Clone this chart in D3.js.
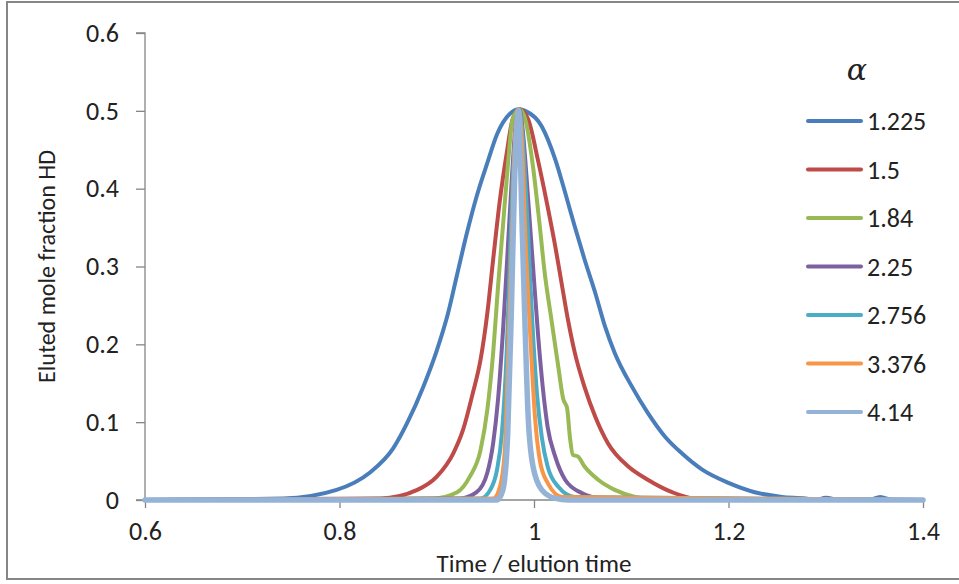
<!DOCTYPE html>
<html>
<head>
<meta charset="utf-8">
<style>
  body { margin: 0; background: #fff; }
  svg text { font-family: Carlito, Calibri, "Liberation Sans", sans-serif; fill: #222; }
</style>
</head>
<body>
<script src="https://d3js.org/d3.v7.min.js"></script>
<script>

// series names (alpha values) and colours
var alphas = ["1.225", "1.5", "1.84", "2.25", "2.756", "3.376", "4.14"];
var colors = ["#4A7EBB", "#BE4B48", "#98B954", "#7D60A0", "#4BACC6", "#F79646", "#95B3D7"];

// [time / elution time, eluted mole fraction]
var s1225 = [[0.6,0],[0.742,0.002],[0.797,0.013],[0.831,0.035],[0.855,0.066],[0.870,0.100],[0.886,0.145],
  [0.900,0.192],[0.911,0.237],[0.921,0.290],[0.931,0.343],[0.941,0.390],[0.952,0.433],[0.962,0.470],
  [0.975,0.496],[0.985,0.502],[0.991,0.500],[1.008,0.480],[1.022,0.437],[1.032,0.395],[1.042,0.351],
  [1.052,0.309],[1.063,0.266],[1.073,0.223],[1.083,0.189],[1.101,0.145],[1.117,0.112],[1.135,0.081],
  [1.152,0.060],[1.173,0.039],[1.200,0.022],[1.227,0.010],[1.255,0.004],[1.279,0.002],[1.290,0],
  [1.300,0.003],[1.315,0],[1.345,0],[1.356,0.004],[1.368,0],[1.4,0]];
var s15 = [[0.6,0],[0.842,0.002],[0.880,0.013],[0.900,0.030],[0.917,0.060],[0.927,0.090],[0.937,0.137],
  [0.945,0.180],[0.952,0.240],[0.958,0.309],[0.965,0.386],[0.972,0.446],[0.978,0.489],[0.985,0.502],
  [0.994,0.489],[1.004,0.437],[1.014,0.377],[1.022,0.325],[1.029,0.274],[1.035,0.231],[1.042,0.189],
  [1.052,0.145],[1.063,0.107],[1.076,0.073],[1.097,0.043],[1.117,0.026],[1.142,0.010],[1.166,0.002],[1.4,0]];
var s184 = [[0.6,0],[0.896,0.002],[0.921,0.010],[0.934,0.030],[0.945,0.064],[0.952,0.116],[0.958,0.189],
  [0.963,0.274],[0.968,0.351],[0.973,0.428],[0.978,0.489],[0.985,0.502],[0.991,0.489],[0.999,0.428],
  [1.006,0.351],[1.011,0.292],[1.018,0.231],[1.025,0.171],[1.030,0.130],[1.034,0.118],[1.037,0.080],
  [1.040,0.058],[1.045,0.056],[1.052,0.043],[1.066,0.026],[1.083,0.013],[1.104,0.004],[1.124,0.001],[1.4,0]];
var s225 = [[0.6,0],[0.924,0.002],[0.941,0.010],[0.952,0.035],[0.958,0.073],[0.963,0.129],[0.968,0.215],
  [0.973,0.322],[0.977,0.408],[0.981,0.480],[0.985,0.502],[0.988,0.480],[0.994,0.386],[0.999,0.300],
  [1.004,0.215],[1.009,0.145],[1.014,0.094],[1.022,0.055],[1.032,0.026],[1.049,0.009],[1.070,0.002],[1.4,0]];
var s2756 = [[0.6,0],[0.945,0.002],[0.955,0.013],[0.962,0.039],[0.967,0.086],[0.972,0.193],[0.975,0.300],
  [0.978,0.408],[0.982,0.480],[0.985,0.502],[0.988,0.472],[0.993,0.364],[0.998,0.235],[1.003,0.137],
  [1.008,0.081],[1.014,0.043],[1.025,0.017],[1.042,0.004],[1.4,0]];
var s3376 = [[0.6,0],[0.958,0.002],[0.965,0.017],[0.970,0.064],[0.973,0.171],[0.977,0.322],[0.980,0.450],
  [0.984,0.502],[0.988,0.450],[0.991,0.343],[0.996,0.215],[1.001,0.107],[1.006,0.051],[1.014,0.022],
  [1.029,0.004],[1.4,0]];
var s414 = [[0.6,0],[0.962,0],[0.968,0.013],[0.973,0.086],[0.977,0.257],[0.980,0.408],[0.984,0.500],
  [0.988,0.343],[0.991,0.215],[0.994,0.107],[0.999,0.043],[1.008,0.013],[1.022,0.002],[1.035,0],[1.4,0]];

var series = [s1225, s15, s184, s225, s2756, s3376, s414];
var widths = [4, 4, 4, 4, 4, 4, 5.5];

var xTicks = [0.6, 0.8, 1, 1.2, 1.4];
var yTicks = [0, 0.1, 0.2, 0.3, 0.4, 0.5, 0.6];

var W = 959, H = 584;
var pLeft = 145, pRight = 923, pTop = 33, pBottom = 500;
var fontStack = "Carlito, Calibri, 'Liberation Sans', sans-serif";

var svg = d3.select("body").append("svg")
    .attr("width", W)
    .attr("height", H);

// outer frame
svg.append("rect")
    .attr("x", 7).attr("y", 2)
    .attr("width", W + 10).attr("height", 577)
    .attr("fill", "#fff")
    .attr("stroke", "#868686")
    .attr("stroke-width", 2);

var x = d3.scaleLinear().domain([0.6, 1.4]).range([pLeft, pRight]);
var y = d3.scaleLinear().domain([0, 0.6]).range([pBottom, pTop]);

var fmt = d => d === 0 ? "0" : String(+d.toFixed(1));

// y axis
var ya = svg.append("g")
    .attr("transform", "translate(" + pLeft + ",0)")
    .call(d3.axisLeft(y).tickValues(yTicks).tickSize(9).tickFormat(fmt));
ya.select(".domain").attr("stroke", "#868686").attr("stroke-width", 1.3)
    .attr("d", "M-9," + pTop + "H0V" + pBottom + "H-9");
ya.selectAll(".tick line").attr("stroke", "#868686").attr("stroke-width", 1.3);
ya.selectAll(".tick text").attr("x", -26).attr("font-size", 26).attr("fill", "#222")
    .attr("font-family", fontStack);

// x axis
var xa = svg.append("g")
    .attr("transform", "translate(0," + pBottom + ")")
    .call(d3.axisBottom(x).tickValues(xTicks).tickSize(8).tickFormat(fmt));
xa.select(".domain").attr("stroke", "#868686").attr("stroke-width", 1.3)
    .attr("d", "M" + pLeft + ",0H" + pRight);
xa.selectAll(".tick line").attr("stroke", "#868686").attr("stroke-width", 1.3);
xa.selectAll(".tick text").attr("y", 22).attr("font-size", 26).attr("fill", "#222")
    .attr("font-family", fontStack);

// curves
var line = d3.line()
    .x(d => x(d[0]))
    .y(d => y(d[1]))
    .curve(d3.curveMonotoneX);

series.forEach((s, i) => {
  svg.append("path")
      .datum(s)
      .attr("fill", "none")
      .attr("stroke", colors[i])
      .attr("stroke-width", widths[i])
      .attr("stroke-linejoin", "round")
      .attr("stroke-linecap", "round")
      .attr("d", line);
});

// axis titles
svg.append("text")
    .attr("x", (pLeft + pRight) / 2)
    .attr("y", 572)
    .attr("text-anchor", "middle")
    .attr("font-size", 25)
    .text("Time / elution time");

svg.append("text")
    .attr("transform", "translate(55," + ((pTop + pBottom) / 2) + ") rotate(-90)")
    .attr("text-anchor", "middle")
    .attr("font-size", 24)
    .text("Eluted mole fraction HD");

// legend
var lg = svg.append("g");
lg.append("text")
    .attr("x", 857).attr("y", 80)
    .attr("text-anchor", "middle")
    .attr("font-size", 30)
    .attr("font-style", "italic")
    .style("font-family", "'DejaVu Serif', 'Liberation Serif', serif")
    .text("α");

alphas.forEach((a, i) => {
  var ly = 121 + i * 48.5;
  lg.append("line")
      .attr("x1", 808).attr("x2", 861)
      .attr("y1", ly).attr("y2", ly)
      .attr("stroke", colors[i])
      .attr("stroke-width", 4)
      .attr("stroke-linecap", "round");
  lg.append("text")
      .attr("x", 867).attr("y", ly)
      .attr("dy", "0.35em")
      .attr("font-size", 26)
      .text(a);
});

</script>
</body>
</html>
